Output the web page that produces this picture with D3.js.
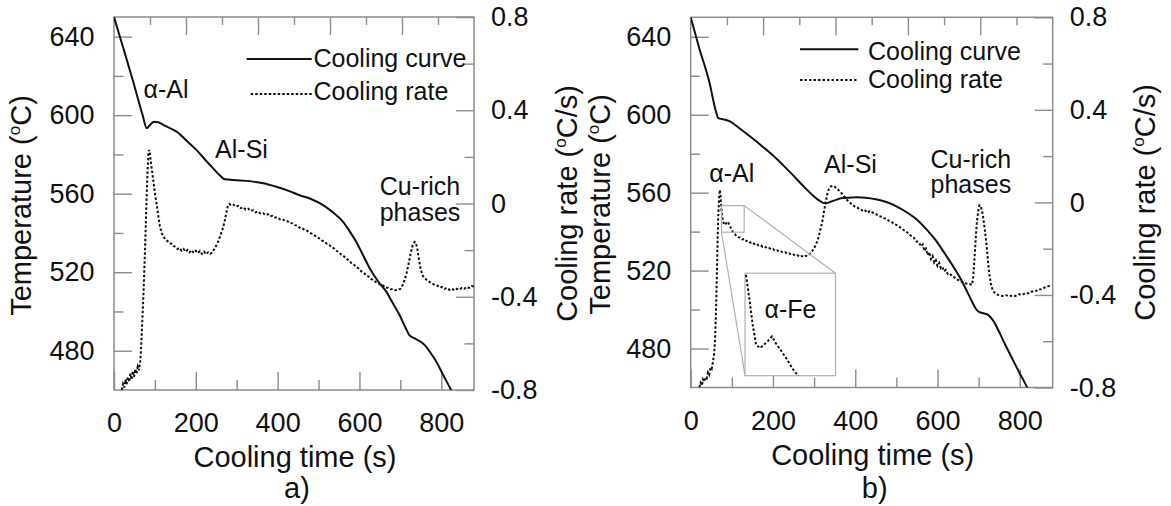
<!DOCTYPE html>
<html>
<head>
<meta charset="utf-8">
<script src="https://cdn.jsdelivr.net/npm/d3@7"></script>
<style>
  body { margin: 0; background: #fff; }
  svg { display: block; }
  text { font-family: "Liberation Sans", Arial, Helvetica, sans-serif; fill: #111; }
</style>
</head>
<body>
<svg id="chart" width="1171" height="506"></svg>
<script>
// ---- Axis domains and tick values ----
const timeDomain = [0, 880];
const tempDomain = [460, 650];
const rateDomain = [-0.8, 0.8];
const timeTicks = [0, 200, 400, 600, 800];
const timeMinor = [100, 300, 500, 700];
const tempTicks = [480, 520, 560, 600, 640];
const tempMinor = [500, 540, 580, 620];
const rateTicks = [-0.8, -0.4, 0, 0.4, 0.8];
const rateMinor = [-0.6, -0.2, 0.2, 0.6];
const topMajor = [2, 4, 6, 8];
const topMinor = [1, 3, 5, 7, 9];

// ---- Panel a: cooling curve [time s, temperature degC] ----
const coolingA = [[0,650],[10,643],[23,634],[47,617],[70,600],[80,593.3],[88,595],[98,596.6],[108,596.4],
  [125,594.5],[153,591.6],[180,586.5],[202,582.2],[225,576.8],[242,573],[258,569.5],[271,567.3],[300,566.9],
  [332,566.4],[365,565.3],[397,563.5],[430,561.2],[454,559.2],[480,557.4],[511,554.2],[535,550.5],[560,545.7],
  [575,541.2],[592,535.5],[608,529],[625,522],[645,515.5],[666,510],[680,504.8],[698,498.2],[712,492],[722,488],
  [735,486.3],[748,484.8],[759,483],[772,479.5],[788,474.4],[805,467.5],[824,460],[840,453]];

// ---- Panel a: cooling rate [time s, rate degC/s] ----
const rateA = [[19,-0.80],[22,-0.775],[25,-0.79],[28,-0.755],[31,-0.775],[34,-0.745],[37,-0.765],[40,-0.73],
  [43,-0.755],[46,-0.72],[49,-0.745],[52,-0.71],[55,-0.73],[58,-0.70],[61,-0.715],[64,-0.68],[66,-0.63],[68,-0.55],
  [70,-0.47],[72,-0.39],[74,-0.29],[76,-0.19],[78,-0.07],[80,0.04],[82,0.14],[84,0.21],[85.5,0.23],[87,0.22],
  [90,0.18],[93,0.14],[96,0.10],[100,0.045],[104,0.0],[108,-0.05],[112,-0.095],[116,-0.125],[120,-0.14],
  [125,-0.152],[130,-0.16],[135,-0.17],[140,-0.172],[145,-0.182],[150,-0.186],[155,-0.195],[160,-0.19],
  [165,-0.202],[170,-0.195],[175,-0.207],[180,-0.199],[185,-0.209],[190,-0.2],[195,-0.212],[200,-0.203],
  [205,-0.213],[210,-0.204],[215,-0.216],[220,-0.206],[225,-0.218],[230,-0.209],[235,-0.216],[240,-0.21],
  [245,-0.196],[250,-0.18],[255,-0.162],[260,-0.138],[265,-0.112],[270,-0.08],[274,-0.045],[278,-0.012],
  [282,-0.002],[286,-0.008],[292,-0.005],[298,-0.014],[304,-0.01],[310,-0.02],[316,-0.016],[322,-0.026],
  [328,-0.022],[334,-0.032],[340,-0.029],[346,-0.038],[352,-0.034],[358,-0.043],[364,-0.041],[370,-0.049],
  [376,-0.046],[382,-0.055],[388,-0.053],[394,-0.06],[400,-0.06],[406,-0.068],[412,-0.067],[418,-0.075],
  [424,-0.076],[430,-0.083],[436,-0.085],[442,-0.093],[448,-0.095],[454,-0.104],[460,-0.106],[466,-0.114],
  [472,-0.117],[478,-0.125],[484,-0.13],[490,-0.137],[496,-0.143],[502,-0.15],[508,-0.158],[514,-0.164],
  [520,-0.172],[526,-0.178],[532,-0.187],[538,-0.193],[544,-0.203],[550,-0.21],[556,-0.22],[562,-0.226],
  [568,-0.237],[574,-0.244],[580,-0.255],[586,-0.262],[592,-0.272],[598,-0.279],[604,-0.29],[610,-0.296],
  [616,-0.307],[622,-0.313],[628,-0.323],[634,-0.328],[640,-0.337],[646,-0.341],[652,-0.35],[658,-0.352],
  [664,-0.36],[670,-0.362],[676,-0.368],[682,-0.367],[688,-0.372],[694,-0.37],[700,-0.366],[705,-0.352],
  [710,-0.33],[715,-0.3],[720,-0.26],[725,-0.215],[730,-0.18],[735,-0.165],[738,-0.168],[742,-0.2],
  [746,-0.245],[750,-0.285],[755,-0.31],[760,-0.322],[766,-0.33],[772,-0.337],[778,-0.343],[784,-0.35],
  [790,-0.352],[796,-0.36],[802,-0.358],[808,-0.366],[814,-0.362],[820,-0.37],[826,-0.365],[832,-0.372],
  [838,-0.366],[844,-0.37],[850,-0.362],[856,-0.366],[862,-0.358],[868,-0.362],[874,-0.354],[880,-0.356]];

// ---- Panel b: cooling curve ----
const coolingB = [[0,650],[21,634],[45,617],[61.5,601.6],[67,598.3],[80,597.6],[94,596.7],[120,592.8],
  [150,587.9],[175,583.6],[199,579.3],[225,574],[248,569.1],[272,563.8],[296,558.8],[312,556],[327,554.5],
  [340,555.3],[353,556.3],[370,557.2],[385,557.4],[405,557.6],[425,557.4],[450,556.6],[474,555.3],[500,553],
  [523,550.2],[548,546.5],[571,541.7],[596,535.5],[620,528],[640,521.5],[660,514.3],[672,509.2],[684,504],
  [692,500.8],[700,498.9],[710,498.2],[721,497.5],[730,495.8],[737,493.8],[750,488.4],[765,481.8],[780,475.5],
  [798,468],[812,462.5],[824,457.5]];

// ---- Panel b: cooling rate ----
const rateB = [[21,-0.80],[24,-0.78],[27,-0.792],[30,-0.765],[33,-0.775],[36,-0.755],[39,-0.76],[42,-0.735],
  [45,-0.745],[48,-0.715],[51,-0.72],[54,-0.69],[57,-0.655],[59,-0.6],[61,-0.5],[62.5,-0.4],[64,-0.28],
  [65.5,-0.16],[67,-0.06],[69,0.02],[71,0.054],[73,0.02],[75,-0.04],[78,-0.075],[81,-0.095],[84,-0.097],
  [87,-0.088],[90,-0.083],[94,-0.095],[98,-0.112],[102,-0.127],[106,-0.135],[110,-0.142],[115,-0.15],
  [120,-0.152],[125,-0.16],[130,-0.158],[135,-0.167],[140,-0.166],[145,-0.174],[150,-0.172],[155,-0.18],
  [160,-0.178],[165,-0.186],[170,-0.185],[175,-0.192],[180,-0.19],[185,-0.197],[190,-0.196],[195,-0.203],
  [200,-0.202],[205,-0.209],[210,-0.207],[215,-0.213],[220,-0.212],[225,-0.218],[230,-0.216],[235,-0.222],
  [240,-0.221],[245,-0.227],[250,-0.225],[255,-0.231],[260,-0.229],[265,-0.235],[270,-0.232],[275,-0.236],
  [280,-0.231],[285,-0.23],[290,-0.222],[295,-0.212],[300,-0.198],[305,-0.18],[310,-0.155],[315,-0.12],
  [320,-0.083],[324,-0.04],[328,0.0],[332,0.035],[336,0.058],[340,0.068],[345,0.072],[350,0.068],[355,0.06],
  [360,0.052],[365,0.044],[370,0.032],[375,0.022],[380,0.01],[385,0.003],[390,-0.006],[395,-0.012],[400,-0.02],
  [405,-0.022],[410,-0.03],[415,-0.032],[420,-0.04],[425,-0.036],[430,-0.045],[435,-0.038],[440,-0.04],
  [446,-0.05],[452,-0.052],[458,-0.06],[464,-0.062],[470,-0.068],[476,-0.072],[482,-0.08],[488,-0.084],
  [494,-0.093],[500,-0.097],[506,-0.105],[512,-0.11],[518,-0.12],[524,-0.126],[530,-0.136],[536,-0.145],
  [542,-0.152],[548,-0.168],[554,-0.17],[560,-0.19],[564,-0.182],[568,-0.21],[572,-0.2],[576,-0.228],
  [580,-0.215],[584,-0.245],[588,-0.232],[592,-0.26],[596,-0.25],[600,-0.275],[604,-0.262],[608,-0.285],
  [612,-0.28],[616,-0.298],[620,-0.292],[625,-0.31],[630,-0.308],[636,-0.32],[642,-0.325],[648,-0.334],
  [654,-0.337],[660,-0.345],[666,-0.348],[672,-0.352],[678,-0.353],[684,-0.356],[687,-0.32],[690,-0.24],
  [693,-0.15],[696,-0.08],[699,-0.035],[702,-0.012],[705,-0.015],[708,-0.035],[711,-0.065],[714,-0.105],
  [717,-0.15],[720,-0.2],[723,-0.26],[726,-0.31],[730,-0.355],[735,-0.383],[742,-0.396],[750,-0.402],
  [758,-0.404],[766,-0.401],[774,-0.406],[782,-0.402],[790,-0.404],[798,-0.397],[806,-0.399],[814,-0.392],
  [822,-0.393],[830,-0.385],[838,-0.384],[846,-0.375],[854,-0.376],[862,-0.366],[870,-0.362],[878,-0.358]];

// ---- Panel b inset: magnified cooling rate around the alpha-Fe event ----
const insetRate = [[75.6,-0.016],[77.6,-0.042],[79.7,-0.072],[81.7,-0.094],[84.1,-0.098],[86.7,-0.094],
  [89,-0.09],[91.4,-0.085],[93.5,-0.092],[95.8,-0.098],[99.9,-0.109],[103.9,-0.121],[107.5,-0.13]];
const insetWindowTime = [75, 130];        // zoomed region, time (s)
const insetWindowRate = [-0.129, -0.014]; // zoomed region, rate
const insetBoxTime = [132, 352];          // where the enlarged view sits
const insetBoxRate = [-0.749, -0.306];

// ---- Phase labels [lines, time, temperature of first baseline] ----
const labelsA = [[["α-Al"],127,608.6],[["Al-Si"],311.7,578.2],[["Cu-rich","phases"],748,559.3]];
const labelsB = [[["α-Al"],99.7,565.6],[["Al-Si"],388.5,570.2],[["Cu-rich","phases"],681,572.7],[["α-Fe"],242.6,495.5]];

const AXIS = "#8c8c8c";
const INK = "#111";
const svg = d3.select("#chart");

function rotatedTitle(g, x, y, before, after) {
  const t = g.append("text")
    .attr("transform", `translate(${x},${y}) rotate(-90)`)
    .attr("text-anchor", "middle")
    .attr("font-size", 29);
  t.append("tspan").text(before);
  t.append("tspan").attr("font-size", 17).attr("dy", -11).text("o");
  t.append("tspan").attr("dy", 11).text(after);
}

function drawPanel(cfg) {
  const { left, top, right, bottom } = cfg.box;
  const x = d3.scaleLinear().domain(timeDomain).range([left, right]);
  const yT = d3.scaleLinear().domain(tempDomain).range([bottom, top]);
  const yR = d3.scaleLinear().domain(rateDomain).range([bottom, top]);
  const g = svg.append("g");

  const clipId = "clip-" + cfg.id;
  svg.append("clipPath").attr("id", clipId).append("rect")
    .attr("x", left).attr("y", top).attr("width", right - left).attr("height", bottom - top);

  const styleAxis = sel => {
    sel.attr("font-size", 27).attr("font-family", null);
    sel.select(".domain").remove();
    sel.selectAll(".tick line").attr("stroke", AXIS).attr("stroke-width", 1.4);
    sel.selectAll(".tick text").attr("fill", INK);
  };

  // left temperature axis
  g.append("g").attr("transform", `translate(${left},0)`)
    .call(d3.axisLeft(yT).tickValues(tempTicks).tickSize(-18).tickPadding(19.5).tickFormat(d3.format("d")))
    .call(styleAxis);
  g.append("g").attr("transform", `translate(${left},0)`)
    .call(d3.axisLeft(yT).tickValues(tempMinor).tickSize(-9.5).tickFormat(""))
    .call(styleAxis);

  // right cooling-rate axis
  const rateFmt = d => d === 0 ? "0" : (d < 0 ? "-" : "") + Math.abs(d).toFixed(1);
  g.append("g").attr("transform", `translate(${right},0)`)
    .call(d3.axisRight(yR).tickValues(rateTicks).tickSize(-18).tickPadding(17).tickFormat(rateFmt))
    .call(styleAxis);
  g.append("g").attr("transform", `translate(${right},0)`)
    .call(d3.axisRight(yR).tickValues(rateMinor).tickSize(-9.5).tickFormat(""))
    .call(styleAxis);

  // bottom time axis
  g.append("g").attr("transform", `translate(0,${bottom})`)
    .call(d3.axisBottom(x).tickValues(timeTicks).tickSize(-18).tickPadding(23).tickFormat(d3.format("d")))
    .call(styleAxis);
  g.append("g").attr("transform", `translate(0,${bottom})`)
    .call(d3.axisBottom(x).tickValues(timeMinor).tickSize(-10).tickFormat(""))
    .call(styleAxis);

  // top edge divisions
  const q = d3.scaleLinear().domain([0, 10]).range([left, right]);
  g.append("g").attr("transform", `translate(0,${top})`)
    .call(d3.axisTop(q).tickValues(topMajor).tickSize(-18).tickFormat(""))
    .call(styleAxis);
  g.append("g").attr("transform", `translate(0,${top})`)
    .call(d3.axisTop(q).tickValues(topMinor).tickSize(-8).tickFormat(""))
    .call(styleAxis);

  // frame
  g.append("rect").attr("x", left).attr("y", top).attr("width", right - left).attr("height", bottom - top)
    .attr("fill", "none").attr("stroke", AXIS).attr("stroke-width", 1.5);

  // curves
  const coolLine = d3.line().x(d => x(d[0])).y(d => yT(d[1])).curve(d3.curveMonotoneX);
  const rateLine = d3.line().x(d => x(d[0])).y(d => yR(d[1]));
  const curves = g.append("g").attr("clip-path", `url(#${clipId})`);
  curves.append("path").datum(cfg.cooling).attr("d", coolLine)
    .attr("fill", "none").attr("stroke", INK).attr("stroke-width", 2);
  curves.append("path").datum(cfg.rate).attr("d", rateLine)
    .attr("fill", "none").attr("stroke", INK).attr("stroke-width", 2)
    .attr("stroke-dasharray", "2.5 2");

  // inset
  if (cfg.inset) {
    const sx0 = x(insetWindowTime[0]), sx1 = x(insetWindowTime[1]);
    const sy0 = yR(insetWindowRate[1]), sy1 = yR(insetWindowRate[0]);
    const bx0 = x(insetBoxTime[0]), bx1 = x(insetBoxTime[1]);
    const by0 = yR(insetBoxRate[1]), by1 = yR(insetBoxRate[0]);
    const box = g.append("g").attr("stroke", "#b0b0b0").attr("stroke-width", 1.2);
    box.append("line").attr("x1", sx1).attr("y1", sy0).attr("x2", bx1).attr("y2", by0);
    box.append("line").attr("x1", sx0).attr("y1", sy1).attr("x2", bx0).attr("y2", by1);
    box.append("rect").attr("x", sx0).attr("y", sy0).attr("width", sx1 - sx0).attr("height", sy1 - sy0).attr("fill", "none");
    box.append("rect").attr("x", bx0).attr("y", by0).attr("width", bx1 - bx0).attr("height", by1 - by0).attr("fill", "#fff");
    svg.append("clipPath").attr("id", "clip-inset").append("rect")
      .attr("x", bx0).attr("y", by0).attr("width", bx1 - bx0).attr("height", by1 - by0);
    const ix = d3.scaleLinear().domain(insetWindowTime).range([bx0, bx1]);
    const iy = d3.scaleLinear().domain(insetWindowRate).range([by1, by0]);
    g.append("path").datum(insetRate).attr("clip-path", "url(#clip-inset)")
      .attr("d", d3.line().x(d => ix(d[0])).y(d => iy(d[1])))
      .attr("fill", "none").attr("stroke", INK).attr("stroke-width", 2).attr("stroke-dasharray", "2.5 2");
  }

  // phase labels (multi-line labels share one text element)
  const lineStep = 25.5;
  g.selectAll("text.phase").data(cfg.labels).join("text").attr("class", "phase")
    .attr("text-anchor", "middle").attr("font-size", 25)
    .each(function (d) {
      const t = d3.select(this);
      d[0].forEach((s, i) => {
        t.append("tspan").attr("x", x(d[1])).attr("y", yT(d[2]) + i * lineStep).text(s);
      });
    });

  // legend
  const L = cfg.legend;
  g.append("line").attr("x1", left + L.solid[0]).attr("x2", left + L.solid[1])
    .attr("y1", top + L.rows[0]).attr("y2", top + L.rows[0]).attr("stroke", INK).attr("stroke-width", 2);
  g.append("line").attr("x1", left + L.dotted[0]).attr("x2", left + L.dotted[1])
    .attr("y1", top + L.rows[1]).attr("y2", top + L.rows[1]).attr("stroke", INK).attr("stroke-width", 2)
    .attr("stroke-dasharray", "2.5 2");
  g.append("text").attr("x", left + L.textX).attr("y", top + L.base[0]).attr("font-size", 25).text("Cooling curve");
  g.append("text").attr("x", left + L.textX).attr("y", top + L.base[1]).attr("font-size", 25).text("Cooling rate");

  // axis titles
  const cx = (left + right) / 2;
  g.append("text").attr("x", cx + 1).attr("y", cfg.titleY).attr("text-anchor", "middle")
    .attr("font-size", 29).text("Cooling time (s)");
  g.append("text").attr("x", cx + 3).attr("y", 498).attr("text-anchor", "middle")
    .attr("font-size", 29).text(cfg.id + ")");
  rotatedTitle(g, cfg.leftTitleX, (top + bottom) / 2 + 2, "Temperature (", "C)");
  rotatedTitle(g, cfg.rightTitleX, (top + bottom) / 2, "Cooling rate (", "C/s)");
}

drawPanel({
  id: "a", box: { left: 114, top: 17, right: 474, bottom: 390 },
  cooling: coolingA, rate: rateA, labels: labelsA, inset: false,
  legend: { solid: [132.7, 197.7], dotted: [136.7, 197.7], rows: [42, 77], textX: 199.5, base: [49.7, 83] },
  titleY: 466.5, leftTitleX: 31, rightTitleX: 577
});
drawPanel({
  id: "b", box: { left: 690.7, top: 17.3, right: 1052.7, bottom: 387.5 },
  cooling: coolingB, rate: rateB, labels: labelsB, inset: true,
  legend: { solid: [109.3, 167.6], dotted: [109.3, 167.6], rows: [32, 62.7], textX: 177.3, base: [42.7, 71] },
  titleY: 465, leftTitleX: 610, rightTitleX: 1155
});
</script>
</body>
</html>
